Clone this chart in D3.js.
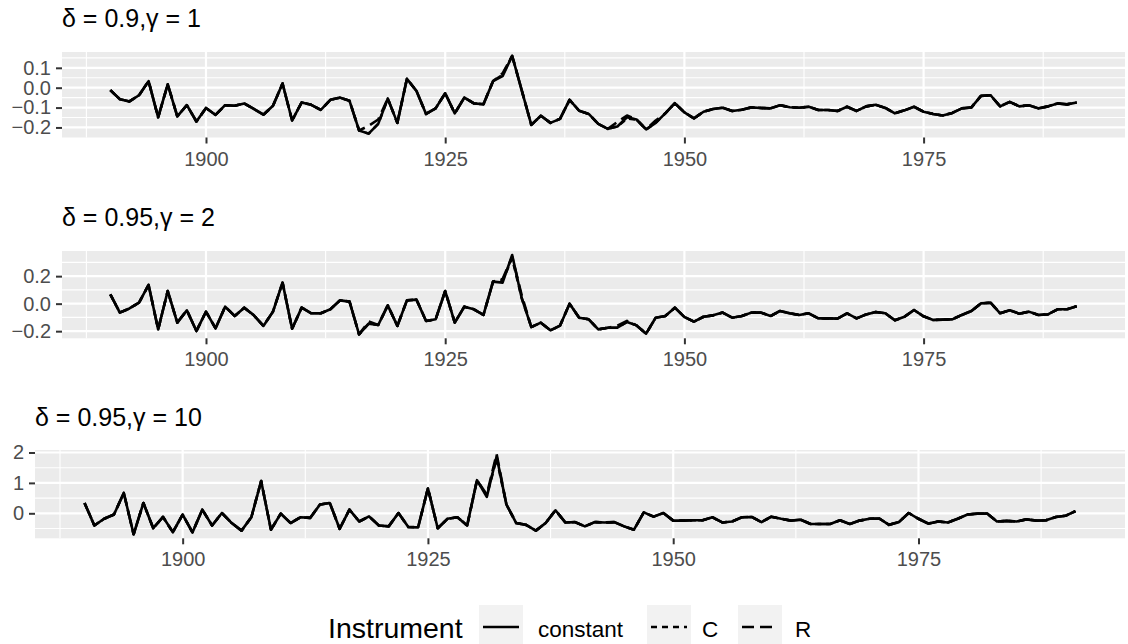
<!DOCTYPE html>
<html>
<head>
<meta charset="utf-8">
<script src="https://cdn.jsdelivr.net/npm/d3@7"></script>
<style>
  body { margin: 0; background: #fff; }
  text { font-family: "Liberation Sans", Arial, Helvetica, sans-serif; }
</style>
</head>
<body>
<script>
// years 1890..1991
var years = d3.range(1890, 1992);

// delta = 0.9, gamma = 1
var p1Constant = [
  -0.012, -0.058, -0.069, -0.038, 0.033, -0.149, 0.017, -0.144, -0.088, -0.170,
  -0.102, -0.137, -0.088, -0.091, -0.079, -0.107, -0.136, -0.091, 0.021, -0.165,
  -0.074, -0.086, -0.112, -0.061, -0.050, -0.066, -0.215, -0.231, -0.182, -0.055,
  -0.177, 0.045, -0.017, -0.132, -0.104, -0.028, -0.129, -0.050, -0.079, -0.083,
  0.033, 0.058, 0.160, -0.013, -0.187, -0.141, -0.177, -0.157, -0.061, -0.116,
  -0.132, -0.182, -0.207, -0.195, -0.149, -0.160, -0.210, -0.177, -0.129, -0.078,
  -0.124, -0.154, -0.121, -0.107, -0.101, -0.117, -0.111, -0.099, -0.102, -0.104,
  -0.088, -0.098, -0.101, -0.096, -0.112, -0.112, -0.117, -0.096, -0.117, -0.094,
  -0.086, -0.102, -0.129, -0.114, -0.096, -0.121, -0.132, -0.140, -0.127, -0.104,
  -0.099, -0.041, -0.038, -0.094, -0.071, -0.094, -0.088, -0.104, -0.094, -0.079,
  -0.084, -0.074
];
var p1C = [[1931, 0.065], [1944, -0.155]];
var p1R = [[1917, -0.192], [1918, -0.160], [1931, 0.072], [1943, -0.172], [1944, -0.140], [1947, -0.165]];

// delta = 0.95, gamma = 2
var p2Constant = [
  0.068, -0.065, -0.035, 0.007, 0.136, -0.187, 0.092, -0.138, -0.048, -0.199,
  -0.058, -0.179, -0.022, -0.090, -0.029, -0.085, -0.162, -0.058, 0.153, -0.182,
  -0.029, -0.070, -0.070, -0.041, 0.024, 0.015, -0.223, -0.145, -0.155, -0.012,
  -0.162, 0.024, 0.029, -0.126, -0.114, 0.092, -0.138, -0.022, -0.041, -0.082,
  0.160, 0.153, 0.354, 0.040, -0.170, -0.138, -0.194, -0.160, 0.000, -0.102,
  -0.114, -0.187, -0.175, -0.175, -0.133, -0.158, -0.218, -0.102, -0.090, -0.029,
  -0.097, -0.131, -0.095, -0.085, -0.065, -0.102, -0.090, -0.065, -0.065, -0.090,
  -0.053, -0.070, -0.082, -0.070, -0.107, -0.107, -0.109, -0.070, -0.107, -0.078,
  -0.061, -0.070, -0.121, -0.095, -0.046, -0.092, -0.119, -0.116, -0.114, -0.082,
  -0.053, 0.002, 0.007, -0.070, -0.048, -0.073, -0.058, -0.082, -0.078, -0.041,
  -0.041, -0.019
];
var p2C = [[1931, 0.170], [1932, 0.330]];
var p2R = [[1917, -0.130], [1931, 0.180], [1932, 0.340], [1933, 0.060], [1943, -0.160], [1944, -0.125]];

// delta = 0.95, gamma = 10
var p3Constant = [
  0.34, -0.40, -0.18, -0.04, 0.67, -0.69, 0.34, -0.49, -0.12, -0.62,
  -0.04, -0.63, 0.12, -0.40, 0.01, -0.32, -0.57, -0.13, 1.06, -0.54,
  -0.01, -0.32, -0.13, -0.15, 0.29, 0.34, -0.51, 0.12, -0.27, -0.10,
  -0.40, -0.43, 0.01, -0.45, -0.46, 0.82, -0.49, -0.18, -0.13, -0.40,
  1.09, 0.54, 1.87, 0.29, -0.32, -0.38, -0.57, -0.32, 0.10, -0.30,
  -0.29, -0.43, -0.29, -0.30, -0.29, -0.43, -0.54, 0.03, -0.11, 0.01,
  -0.24, -0.24, -0.23, -0.23, -0.13, -0.30, -0.27, -0.13, -0.12, -0.29,
  -0.11, -0.18, -0.24, -0.21, -0.35, -0.35, -0.35, -0.23, -0.35, -0.24,
  -0.18, -0.17, -0.38, -0.29, 0.01, -0.18, -0.34, -0.27, -0.30, -0.18,
  -0.04, -0.01, -0.01, -0.27, -0.25, -0.27, -0.20, -0.24, -0.23, -0.12,
  -0.08, 0.07
];
var p3C = [[1931, 0.58], [1932, 1.80]];
var p3R = [[1931, 0.62], [1932, 1.95]];

var xTicks = [1900, 1925, 1950, 1975];
var xMinor = [1887.5, 1912.5, 1937.5, 1962.5, 1987.5];
var p1YTicks = [-0.2, -0.1, 0.0, 0.1];
var p1YMinor = [-0.15, -0.05, 0.05, 0.15];
var p2YTicks = [-0.2, 0.0, 0.2];
var p2YMinor = [-0.1, 0.1, 0.3];
var p3YTicks = [0, 1, 2];
var p3YMinor = [-0.5, 0.5, 1.5];

var instruments = ["constant", "C", "R"];
var dashes = [null, "6,5", "12,6"];

function withOverrides(base, overrides) {
  var m = new Map(overrides);
  return years.map(function(yr, i) { return { year: yr, value: m.has(yr) ? m.get(yr) : base[i] }; });
}

var panels = [
  { delta: "0.9", gamma: "1", series: [p1Constant, p1C, p1R], yTicks: p1YTicks, yMinor: p1YMinor,
    fmt: d3.format(".1f"), left: 62, top: 52, bottom: 137.5, titleY: 27 },
  { delta: "0.95", gamma: "2", series: [p2Constant, p2C, p2R], yTicks: p2YTicks, yMinor: p2YMinor,
    fmt: d3.format(".1f"), left: 62, top: 251, bottom: 338.3, titleY: 225.5 },
  { delta: "0.95", gamma: "10", series: [p3Constant, p3C, p3R], yTicks: p3YTicks, yMinor: p3YMinor,
    fmt: d3.format("d"), left: 35, top: 450, bottom: 538.3, titleY: 425.5 }
];

var W = 1128, H = 644, right = 1125;

var svg = d3.select("body").append("svg")
  .attr("width", W)
  .attr("height", H);

panels.forEach(function(p) {
  var lines = [
    years.map(function(yr, i) { return { year: yr, value: p.series[0][i] }; }),
    withOverrides(p.series[0], p.series[1]),
    withOverrides(p.series[0], p.series[2])
  ];
  var all = [].concat(lines[0], lines[1], lines[2]);
  var ext = d3.extent(all, function(d) { return d.value; });
  var pad = (ext[1] - ext[0]) * 0.05;
  var xpad = (1991 - 1890) * 0.05;

  var x = d3.scaleLinear().domain([1890 - xpad, 1991 + xpad]).range([p.left, right]);
  var y = d3.scaleLinear().domain([ext[0] - pad, ext[1] + pad]).range([p.bottom, p.top]);

  var g = svg.append("g");

  g.append("rect")
    .attr("x", p.left).attr("y", p.top)
    .attr("width", right - p.left).attr("height", p.bottom - p.top)
    .attr("fill", "#EBEBEB");

  // grid
  g.selectAll(".ymin").data(p.yMinor).enter().append("line")
    .attr("x1", p.left).attr("x2", right)
    .attr("y1", function(d) { return y(d); }).attr("y2", function(d) { return y(d); })
    .attr("stroke", "#fff").attr("stroke-width", 1.1);
  g.selectAll(".xmin").data(xMinor).enter().append("line")
    .attr("y1", p.top).attr("y2", p.bottom)
    .attr("x1", function(d) { return x(d); }).attr("x2", function(d) { return x(d); })
    .attr("stroke", "#fff").attr("stroke-width", 1.1);
  g.selectAll(".ymaj").data(p.yTicks).enter().append("line")
    .attr("x1", p.left).attr("x2", right)
    .attr("y1", function(d) { return y(d); }).attr("y2", function(d) { return y(d); })
    .attr("stroke", "#fff").attr("stroke-width", 2.2);
  g.selectAll(".xmaj").data(xTicks).enter().append("line")
    .attr("y1", p.top).attr("y2", p.bottom)
    .attr("x1", function(d) { return x(d); }).attr("x2", function(d) { return x(d); })
    .attr("stroke", "#fff").attr("stroke-width", 2.2);

  // axes
  var xAxis = d3.axisBottom(x).tickValues(xTicks).tickFormat(d3.format("d")).tickSize(6).tickPadding(8);
  var ax = g.append("g").attr("transform", "translate(0," + p.bottom + ")").call(xAxis);
  var yAxis = d3.axisLeft(y).tickValues(p.yTicks).tickFormat(p.fmt).tickSize(6).tickPadding(5);
  var ay = g.append("g").attr("transform", "translate(" + p.left + ",0)").call(yAxis);
  [ax, ay].forEach(function(a) {
    a.select(".domain").remove();
    a.selectAll(".tick line").attr("stroke", "#333333").attr("stroke-width", 2);
    a.selectAll(".tick text").attr("fill", "#4D4D4D").style("font-size", "20px")
      .style("font-family", "'Liberation Sans', Arial, sans-serif");
  });

  // lines
  var line = d3.line().x(function(d) { return x(d.year); }).y(function(d) { return y(d.value); });
  lines.forEach(function(data, k) {
    g.append("path")
      .datum(data)
      .attr("d", line)
      .attr("fill", "none")
      .attr("stroke", "#000")
      .attr("stroke-width", 2.6)
      .attr("stroke-linejoin", "round")
      .attr("stroke-dasharray", dashes[k]);
  });

  // title
  g.append("text")
    .attr("x", p.left).attr("y", p.titleY)
    .style("font-size", "25px")
    .attr("fill", "#000")
    .text("\u03B4 = " + p.delta + ",\u03B3 = " + p.gamma);
});

// legend
var lg = svg.append("g");
lg.append("text").attr("x", 328).attr("y", 637.5)
  .style("font-size", "28.5px").text("Instrument");

var keyX = [479, 647, 738];
var labelX = [538, 702, 795];
instruments.forEach(function(name, k) {
  lg.append("rect").attr("x", keyX[k]).attr("y", 605).attr("width", 44).attr("height", 44)
    .attr("fill", "#F2F2F2");
  lg.append("line").attr("x1", keyX[k] + 4).attr("x2", keyX[k] + 40)
    .attr("y1", 627).attr("y2", 627)
    .attr("stroke", "#000").attr("stroke-width", 2.6)
    .attr("stroke-dasharray", dashes[k]);
  lg.append("text").attr("x", labelX[k]).attr("y", 636.5)
    .style("font-size", "22.5px").text(name);
});
</script>
</body>
</html>
